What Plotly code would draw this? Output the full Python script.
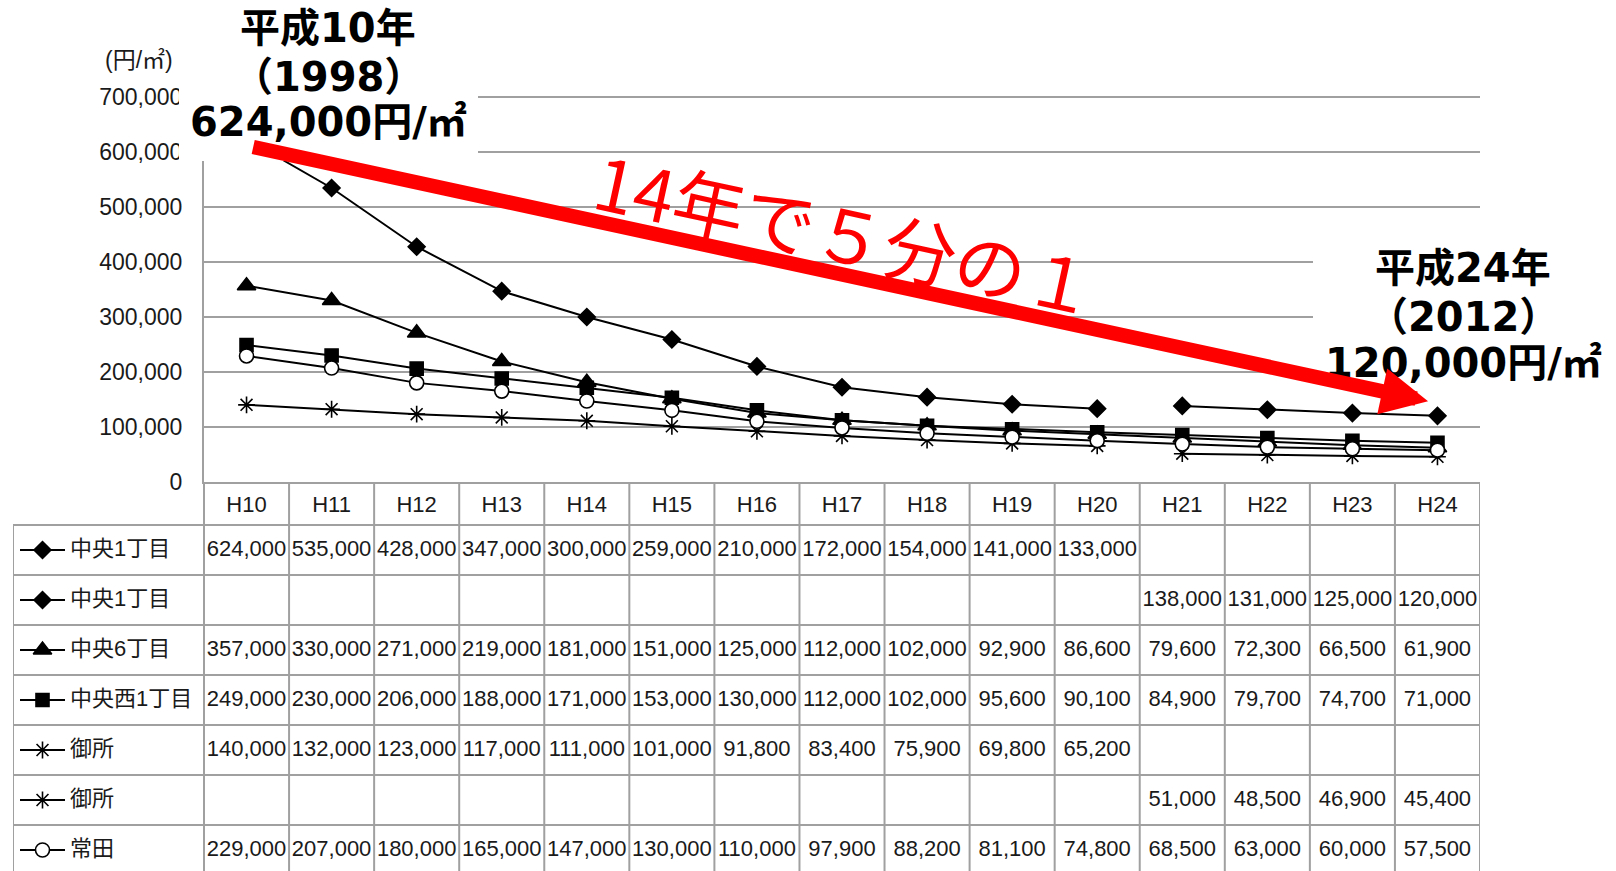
import plotly.graph_objects as go

W, H = 1616, 871

# ---------------- data ----------------
years = ["H10", "H11", "H12", "H13", "H14", "H15", "H16", "H17",
         "H18", "H19", "H20", "H21", "H22", "H23", "H24"]

chuo1_a = [624000, 535000, 428000, 347000, 300000, 259000, 210000, 172000,
           154000, 141000, 133000, None, None, None, None]
chuo1_b = [None, None, None, None, None, None, None, None,
           None, None, None, 138000, 131000, 125000, 120000]
chuo6 = [357000, 330000, 271000, 219000, 181000, 151000, 125000, 112000,
         102000, 92900, 86600, 79600, 72300, 66500, 61900]
chuonishi1 = [249000, 230000, 206000, 188000, 171000, 153000, 130000, 112000,
              102000, 95600, 90100, 84900, 79700, 74700, 71000]
gosho_a = [140000, 132000, 123000, 117000, 111000, 101000, 91800, 83400,
           75900, 69800, 65200, None, None, None, None]
gosho_b = [None, None, None, None, None, None, None, None,
           None, None, None, 51000, 48500, 46900, 45400]
tokida = [229000, 207000, 180000, 165000, 147000, 130000, 110000, 97900,
          88200, 81100, 74800, 68500, 63000, 60000, 57500]

series_names = ["中央1丁目", "中央1丁目", "中央6丁目", "中央西1丁目", "御所", "御所", "常田"]
series_values = [chuo1_a, chuo1_b, chuo6, chuonishi1, gosho_a, gosho_b, tokida]

y_ticks = [0, 100000, 200000, 300000, 400000, 500000, 600000, 700000]

# ---------------- styles ----------------
GRID = "#a0a0a0"
TXT = "#1a1a1a"
NUMF = "Liberation Sans, Arial, sans-serif"
CJK = "Liberation Sans, Noto Sans CJK JP, sans-serif"
BOLD = "DejaVu Sans, Noto Sans CJK JP, sans-serif"

styles = [
    dict(symbol="diamond", size=13, color="black"),
    dict(symbol="diamond", size=13, color="black"),
    dict(symbol="triangle-up", size=16, color="black"),
    dict(symbol="square", size=13, color="black"),
    dict(symbol="asterisk-open", size=14, color="black"),
    dict(symbol="asterisk-open", size=14, color="black"),
    dict(symbol="circle", size=14, color="white"),
]

def px_x(p):
    return p / W

def px_y(p):
    return 1 - p / H

# plot area (pixels): 0 at PB, 700,000 at PT
PL, PR, PT, PB = 204, 1480, 97.4, 481.7
YTOP = 700000
YMAX = 702000            # a little headroom so the 700,000 grid line is drawn
PT_DOM = PB - (PB - PT) * YMAX / YTOP
COLW = (PR - PL) / len(years)
TL = 13            # table left edge
HDR_TOP = 482      # header row top
ROW0 = 525         # first data row top
ROWH = 50

x2_min = -0.5 - (PL - TL) / COLW
y2_top = -(ROW0 - HDR_TOP) / ROWH
y2_bot = (H - ROW0) / ROWH

fig = go.Figure()

# ---------------- chart lines ----------------
for name, vals, st in zip(series_names, series_values, styles):
    fig.add_trace(go.Scatter(
        x=years, y=vals, name=name, mode="lines+markers",
        line=dict(color="black", width=2),
        marker=dict(symbol=st["symbol"], size=st["size"], color=st["color"],
                    line=dict(color="black", width=1.6)),
        xaxis="x", yaxis="y", showlegend=False, cliponaxis=False,
        connectgaps=False,
    ))

# ---------------- table ----------------
cols = list(range(len(years)))
fig.add_trace(go.Scatter(
    x=cols, y=[y2_top / 2 + 0.05] * len(years), text=years, mode="text",
    textfont=dict(family=NUMF, size=22, color=TXT),
    xaxis="x2", yaxis="y2", showlegend=False, hoverinfo="skip",
))

LEG_X0 = -0.5 + (20 - PL) / COLW
LEG_X1 = -0.5 + (65 - PL) / COLW
LEG_XM = (LEG_X0 + LEG_X1) / 2
LABEL_X = -0.5 + (70 - PL) / COLW

for r, (name, vals, st) in enumerate(zip(series_names, series_values, styles)):
    yc = r + 0.5
    xs = [c for c, v in zip(cols, vals) if v is not None]
    ts = [f"{v:,}" for v in vals if v is not None]
    fig.add_trace(go.Scatter(
        x=xs, y=[yc] * len(xs), text=ts, mode="text",
        textfont=dict(family=NUMF, size=22, color=TXT),
        xaxis="x2", yaxis="y2", showlegend=False, hoverinfo="skip",
        cliponaxis=False,
    ))
    fig.add_trace(go.Scatter(
        x=[LEG_X0, LEG_X1], y=[yc, yc], mode="lines",
        line=dict(color="black", width=2),
        xaxis="x2", yaxis="y2", showlegend=False, hoverinfo="skip",
    ))
    fig.add_trace(go.Scatter(
        x=[LEG_XM], y=[yc], mode="markers",
        marker=dict(symbol=st["symbol"], size=st["size"], color=st["color"],
                    line=dict(color="black", width=1.6)),
        xaxis="x2", yaxis="y2", showlegend=False, hoverinfo="skip",
    ))
    fig.add_trace(go.Scatter(
        x=[LABEL_X], y=[yc], text=[name], mode="text", textposition="middle right",
        textfont=dict(family=CJK, size=22, color=TXT),
        xaxis="x2", yaxis="y2", showlegend=False, hoverinfo="skip",
        cliponaxis=False,
    ))

shapes = []
n_rows = len(series_names)
for k in range(n_rows):
    shapes.append(dict(type="line", xref="x2", yref="y2", x0=x2_min, x1=len(years) - 0.5,
                       y0=k, y1=k, line=dict(color=GRID, width=2), layer="above"))
shapes.append(dict(type="line", xref="x2", yref="y2", x0=x2_min, x1=x2_min,
                   y0=0, y1=y2_bot, line=dict(color=GRID, width=2), layer="above"))
for c in range(len(years) + 1):
    xv = c - 0.5
    shapes.append(dict(type="line", xref="x2", yref="y2", x0=xv, x1=xv,
                       y0=y2_top, y1=y2_bot, line=dict(color=GRID, width=2), layer="above"))

# white label boxes covering grid
shapes.append(dict(type="rect", xref="paper", yref="paper",
                   x0=px_x(179), x1=px_x(478), y0=px_y(161), y1=1.0,
                   fillcolor="white", line=dict(width=0), layer="above"))
shapes.append(dict(type="rect", xref="paper", yref="paper",
                   x0=px_x(1313), x1=1.0, y0=px_y(385), y1=px_y(242),
                   fillcolor="white", line=dict(width=0), layer="above"))

annotations = []
annotations.append(dict(text="(円/㎡)", xref="paper", yref="paper",
                        x=px_x(139), y=px_y(60), showarrow=False,
                        xanchor="center", yanchor="middle",
                        font=dict(family=CJK, size=23, color=TXT)))

left_lines = [("平成10年", 28), ("（1998）", 77), ("624,000円/㎡", 122)]
for t, yy in left_lines:
    annotations.append(dict(text=t, xref="paper", yref="paper", x=px_x(328), y=px_y(yy),
                            showarrow=False, xanchor="center", yanchor="middle",
                            font=dict(family=BOLD, size=40, color="black", weight="bold")))
right_lines = [("平成24年", 268), ("（2012）", 317), ("120,000円/㎡", 363)]
for t, yy in right_lines:
    annotations.append(dict(text=t, xref="paper", yref="paper", x=px_x(1463), y=px_y(yy),
                            showarrow=False, xanchor="center", yanchor="middle",
                            font=dict(family=BOLD, size=40, color="black", weight="bold")))

annotations.append(dict(text="14年で５分の１", xref="paper", yref="paper",
                        x=px_x(847), y=px_y(231), showarrow=False, textangle=12.3,
                        xanchor="center", yanchor="middle",
                        font=dict(family="Noto Sans CJK JP, sans-serif", size=72, color="#ff0000")))

def to_idx(p):
    return (p - PL) / COLW - 0.5

def to_val(p):
    return (PB - p) / (PB - PT) * YTOP

head_s = 9.37
aw = 14.5
tip = (1430, 401.7)
tail = (251.7, 146.7)
dx, dy = tip[0] - tail[0], tip[1] - tail[1]
L = (dx * dx + dy * dy) ** 0.5
ux, uy = dx / L, dy / L
back = 2.0
hp = (tip[0] - back * ux, tip[1] - back * uy)
annotations.append(dict(text="", x=to_idx(hp[0]), y=to_val(hp[1]), xref="x", yref="y",
                        ax=to_idx(tail[0]), ay=to_val(tail[1]), axref="x", ayref="y",
                        showarrow=True, arrowhead=2, arrowwidth=aw, arrowsize=head_s / aw,
                        arrowcolor="#ff0000", font=dict(size=1)))

fig.update_layout(
    width=W, height=H, margin=dict(l=0, r=0, t=0, b=0, pad=0, autoexpand=False),
    paper_bgcolor="white", plot_bgcolor="white",
    showlegend=False,
    xaxis=dict(type="category", categoryorder="array", categoryarray=years,
               domain=[px_x(PL), px_x(PR)], range=[-0.5, len(years) - 0.5],
               showgrid=False, showticklabels=False, ticks="",
               showline=True, linecolor=GRID, linewidth=2, zeroline=False,
               anchor="y", automargin=False),
    yaxis=dict(domain=[px_y(PB), px_y(PT_DOM)], range=[0, YMAX],
               tickvals=y_ticks, tickformat=",d",
               showgrid=True, gridcolor=GRID, gridwidth=2,
               showline=True, linecolor=GRID, linewidth=2, zeroline=False,
               ticks="", ticklabelstandoff=15,
               tickfont=dict(family=NUMF, size=23, color=TXT),
               anchor="x", automargin=False),
    xaxis2=dict(domain=[px_x(TL), px_x(PR)], range=[x2_min, len(years) - 0.5],
                visible=False, anchor="y2", automargin=False),
    yaxis2=dict(domain=[0, px_y(HDR_TOP)], range=[y2_bot, y2_top],
                visible=False, anchor="x2", automargin=False),
    shapes=shapes,
    annotations=annotations,
)

fig.write_html("out.html")
